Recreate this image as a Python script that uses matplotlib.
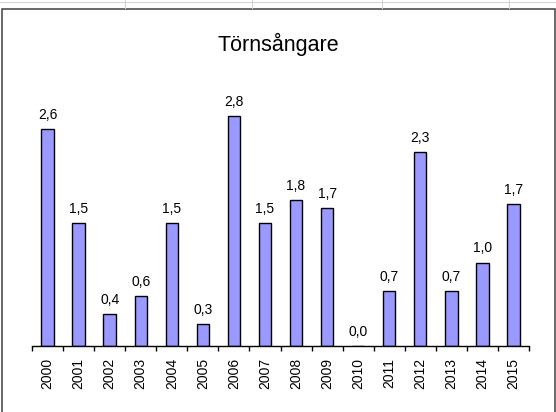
import numpy as np
import matplotlib
matplotlib.use("Agg")
import matplotlib.pyplot as plt
from matplotlib.lines import Line2D
from matplotlib.patches import Rectangle

plt.rcParams["font.family"] = ["Liberation Sans", "DejaVu Sans"]

years = ["2000", "2001", "2002", "2003", "2004", "2005", "2006", "2007",
         "2008", "2009", "2010", "2011", "2012", "2013", "2014", "2015"]
values = [2.61, 1.48, 0.38, 0.60, 1.48, 0.26, 2.77, 1.48,
          1.75, 1.66, 0.00, 0.66, 2.33, 0.66, 1.00, 1.70]
title = "Törnsångare"

W, H = 556, 412
fig = plt.figure(figsize=(W / 100, H / 100), dpi=100)

# plot area in pixels: x 32..529, baseline at 345.5, 83 px per unit
ax = fig.add_axes([32 / W, (H - 345.5) / H, 497 / W, 249 / H])

x = np.arange(len(years))
ax.bar(x, values, width=0.4, color="#9999ff", edgecolor="black", linewidth=1.0)

for xi, v in zip(x, values):
    ax.annotate(f"{v:.1f}".replace(".", ","), (xi, v), xytext=(0, 7.2),
                textcoords="offset points", ha="center", va="baseline",
                fontsize=10)

ax.set_xlim(-0.5, len(years) - 0.5)
ax.set_ylim(0, 3)
ax.set_yticks([])
for s in ["left", "top", "right"]:
    ax.spines[s].set_visible(False)
ax.spines["bottom"].set_linewidth(1.0)

ax.set_xticks(x)
ax.set_xticklabels(years, rotation=90, fontsize=10)
ax.tick_params(axis="x", which="major", length=0, pad=9)
ax.set_xticks(np.arange(-0.5, len(years)), minor=True)
ax.tick_params(axis="x", which="minor", length=3.6, width=1.0, color="black")

fig.text(278.5 / W, (H - 51) / H, title, ha="center", va="baseline", fontsize=15.5)

# chart frame and spreadsheet grid above it
fig.add_artist(Rectangle((1.5 / W, -0.02), 553 / W, (H - 8.5) / H + 0.02,
                         transform=fig.transFigure, fill=False,
                         edgecolor="#404040", linewidth=1.1))
fig.add_artist(Line2D([0, 1], [(H - 1.7) / H] * 2, transform=fig.transFigure,
                      color="#d4d4d4", linewidth=0.8))
for gx in [125, 252, 382, 509]:
    fig.add_artist(Line2D([gx / W] * 2, [(H - 8) / H, 1], transform=fig.transFigure,
                          color="#d4d4d4", linewidth=0.8))

fig.savefig("out.png", dpi=100)
